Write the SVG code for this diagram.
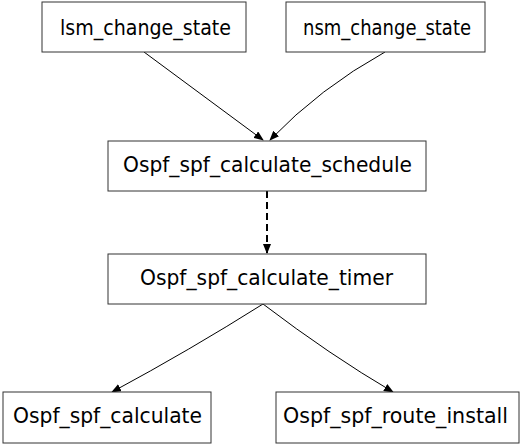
<svg xmlns="http://www.w3.org/2000/svg" width="530" height="445" viewBox="0 0 530 445">
<style>
.box{fill:#fff;stroke:#333;stroke-width:1}
.lbl{font-family:"DejaVu Sans Condensed","DejaVu Sans",sans-serif;font-size:22px;fill:#000}
.edge{fill:none;stroke:#000;stroke-width:1}
.dash{fill:none;stroke:#000;stroke-width:2;stroke-dasharray:7,4}
</style>
<defs>
<marker id="ah" markerWidth="10" markerHeight="8" refX="9" refY="4" orient="auto" markerUnits="userSpaceOnUse">
<path d="M0,0 L10,4 L0,8 Z" fill="#000"/>
</marker>
</defs>
<rect width="530" height="445" fill="#fff"/>
<g id="connectors">
<path class="edge" d="M144,52 L263,140" marker-end="url(#ah)"/>
<path class="edge" d="M385,52 Q320,88 270,140" marker-end="url(#ah)"/>
<path class="dash" d="M267,191 L267,253" marker-end="url(#ah)"/>
<path class="edge" d="M263,304 Q190,350 112,392" marker-end="url(#ah)"/>
<path class="edge" d="M263,304 Q330,355 393,392" marker-end="url(#ah)"/>
</g>
<g id="lsm">
<rect class="box" x="42" y="2" width="204" height="50"/>
<text class="lbl" x="60" y="35" textLength="171" lengthAdjust="spacingAndGlyphs">lsm_change_state</text>
</g>
<g id="nsm">
<rect class="box" x="286" y="2" width="199" height="50"/>
<text class="lbl" x="303" y="35" textLength="168" lengthAdjust="spacingAndGlyphs">nsm_change_state</text>
</g>
<g id="schedule">
<rect class="box" x="108" y="141" width="318" height="50"/>
<text class="lbl" x="123" y="172" textLength="289" lengthAdjust="spacingAndGlyphs">Ospf_spf_calculate_schedule</text>
</g>
<g id="timer">
<rect class="box" x="108" y="254" width="318" height="50"/>
<text class="lbl" x="140" y="285" textLength="253" lengthAdjust="spacingAndGlyphs">Ospf_spf_calculate_timer</text>
</g>
<g id="calculate">
<rect class="box" x="3" y="392" width="208" height="51"/>
<text class="lbl" x="13" y="423" textLength="189" lengthAdjust="spacingAndGlyphs">Ospf_spf_calculate</text>
</g>
<g id="route">
<rect class="box" x="276" y="392" width="243" height="51"/>
<text class="lbl" x="283" y="423" textLength="225" lengthAdjust="spacingAndGlyphs">Ospf_spf_route_install</text>
</g>
</svg>
